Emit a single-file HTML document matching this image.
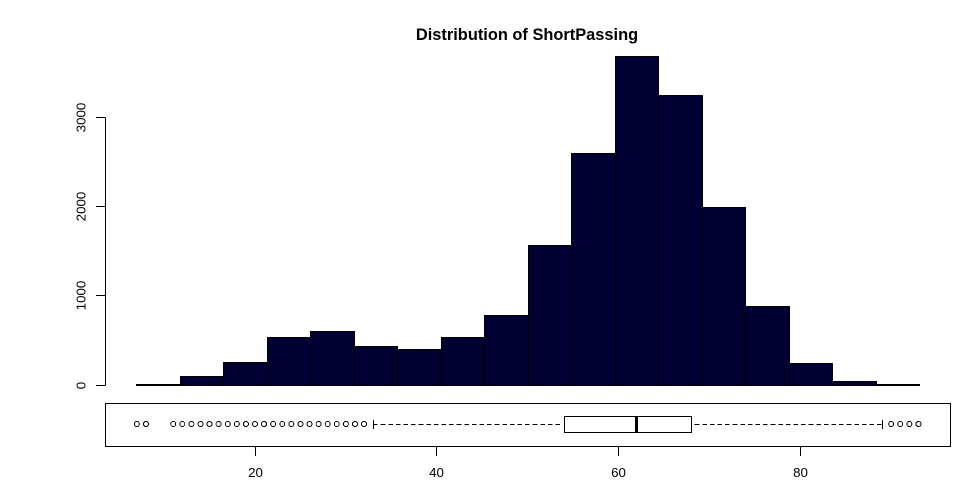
<!DOCTYPE html>
<html>
<head>
<meta charset="utf-8">
<title>Distribution of ShortPassing</title>
<style>
html,body{margin:0;padding:0;background:#fff;width:960px;height:480px;overflow:hidden}
svg{display:block}
text{font-family:"Liberation Sans",sans-serif;fill:#000}
</style>
</head>
<body>
<svg id="chart" xmlns="http://www.w3.org/2000/svg" width="960" height="480" viewBox="0 0 960 480">
<text x="527" y="40" text-anchor="middle" font-size="16.4" font-weight="bold">Distribution of ShortPassing</text>
</svg>
<script>
const binStart = 6.96;
const binWidth = 4.788;
const binCounts = [6, 95, 252, 532, 599, 431, 398, 532, 778, 1562, 2592, 3679, 3242, 1988, 879, 241, 39, 6];
const yTicks = [0, 1000, 2000, 3000];
const xTicks = [20, 40, 60, 80];
const boxQ1 = 54;
const boxMedian = 62;
const boxQ3 = 68;
const whiskerLow = 33;
const whiskerHigh = 89;
const outliers = [7, 8, 11, 12, 13, 14, 15, 16, 17, 18, 19, 20, 21, 22, 23, 24, 25, 26, 27, 28, 29, 30, 31, 32, 90, 91, 92, 93];

const svg = document.getElementById('chart');
const NS = 'http://www.w3.org/2000/svg';
function x(v) { return 255 + (v - 20) * 9.088; }
function y(v) { return 385.0 - v * 0.0893; }
function crisp(p) { return Math.floor(p + 0.01) + 0.5; }
function add(tag, attrs, parent) {
  const el = document.createElementNS(NS, tag);
  for (const k in attrs) el.setAttribute(k, attrs[k]);
  (parent || svg).appendChild(el);
  return el;
}
const SR = 'crispEdges';

binCounts.forEach(function (c, i) {
  const x0 = crisp(x(binStart + i * binWidth));
  const x1 = crisp(x(binStart + (i + 1) * binWidth));
  const y0 = crisp(y(c));
  const r = add('rect', { x: x0, y: y0, width: x1 - x0, height: crisp(y(0)) - y0, fill: '#000033', stroke: '#000', 'stroke-width': 1, 'shape-rendering': SR });
  
  
});

const yAxisLine = add('line', { x1: 105.5, x2: 105.5, y1: crisp(y(yTicks[0])), y2: crisp(y(yTicks[yTicks.length - 1])), stroke: '#000', 'shape-rendering': SR });


yTicks.forEach(function (t) {
  const py = crisp(y(t));
  const tick = add('line', { x1: 96, x2: 105.5, y1: py, y2: py, stroke: '#000', 'shape-rendering': SR });
  
  
  const lab = add('text', { x: 0, y: 0, 'font-size': 13.33, 'text-anchor': 'middle', transform: 'translate(85.5 ' + py + ') rotate(-90)' });
  lab.textContent = String(t);
  
  
});

const frame = add('rect', { x: 105.5, y: 403.5, width: 845, height: 43, fill: 'none', stroke: '#000', 'shape-rendering': SR });



const midY = 424.5;
const whiskerL = add('line', { x1: x(whiskerLow), x2: x(boxQ1) - 2, y1: midY, y2: midY, stroke: '#000', 'stroke-dasharray': '4.6 3', 'shape-rendering': SR });


const whiskerR = add('line', { x1: x(boxQ3) + 3.5, x2: x(whiskerHigh), y1: midY, y2: midY, stroke: '#000', 'stroke-dasharray': '4.6 3', 'shape-rendering': SR });


const capL = add('line', { x1: crisp(x(whiskerLow)), x2: crisp(x(whiskerLow)), y1: 420, y2: 429, stroke: '#000', 'shape-rendering': SR });


const capR = add('line', { x1: crisp(x(whiskerHigh)), x2: crisp(x(whiskerHigh)), y1: 420, y2: 429, stroke: '#000', 'shape-rendering': SR });



const bx0 = crisp(x(boxQ1));
const bx1 = crisp(x(boxQ3));
const box = add('rect', { x: bx0, y: 416.5, width: bx1 - bx0, height: 16, fill: '#fff', stroke: '#000', 'shape-rendering': SR });


const med = add('line', { x1: crisp(x(boxMedian)), x2: crisp(x(boxMedian)), y1: 416.5, y2: 432.5, stroke: '#000', 'stroke-width': 3, 'shape-rendering': SR });



outliers.forEach(function (v) {
  const c = add('circle', { cx: x(v), cy: 424, r: 2.5, fill: 'none', stroke: '#000', 'stroke-width': 1, 'shape-rendering': SR });
  
  
});

xTicks.forEach(function (t) {
  const px = crisp(x(t));
  const tick = add('line', { x1: px, x2: px, y1: 446.5, y2: 456, stroke: '#000', 'shape-rendering': SR });
  
  
  const lab = add('text', { x: px, y: 477, 'font-size': 13.33, 'text-anchor': 'middle' });
  lab.textContent = String(t);
  
  
});
</script>
</body>
</html>
